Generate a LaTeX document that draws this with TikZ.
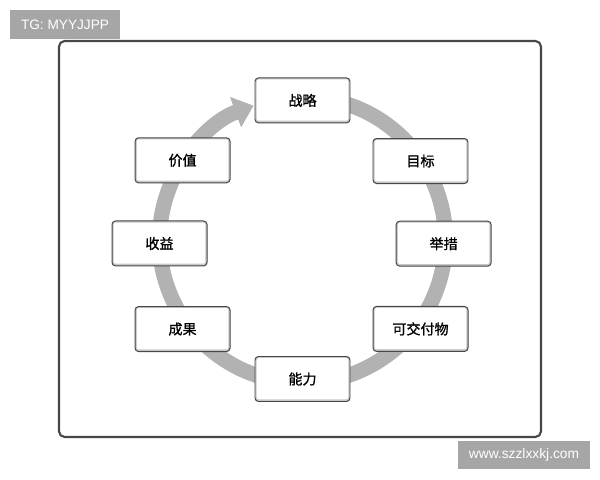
\documentclass[tikz,border=0pt]{standalone}
\usepackage{fontspec}
\setsansfont{Liberation Sans}
\newfontfamily\cjk[FakeBold=1.2]{Noto Sans CJK SC}
\usetikzlibrary{arrows.meta}
\begin{document}
\begin{tikzpicture}[
    stage/.style={draw=black!72, line width=0.7pt, fill=black!22, rounded corners=2.5pt,
      minimum width=2.375cm, minimum height=1.125cm, font=\cjk\fontsize{10}{12}\selectfont,
      path picture={\fill[white, rounded corners=1.5pt]
        ([shift={(1.2pt,1.6pt)}]path picture bounding box.south west) rectangle
        ([shift={(-1.2pt,-1.1pt)}]path picture bounding box.north east);}},
    tag/.style={fill=black!35, text=white, inner sep=0pt}
  ]
  \useasboundingbox (0,0) rectangle (15,12);
  \node[tag, minimum width=2.75cm, minimum height=0.725cm, font=\sffamily\fontsize{9.7}{11}\selectfont]
    (tg) at (1.625,11.3875) {TG: MYYJJPP};
  \node[tag, minimum width=3.3cm, minimum height=0.7cm, font=\sffamily\fontsize{9.8}{11}\selectfont]
    (web) at (13.1,0.625) {www.szzlxxkj.com};
  \draw[black!72, line width=1.5pt, rounded corners=4pt] (1.475,1.075) rectangle (13.525,10.975);
  \begin{scope}[shift={(7.5625,6.0)}]
    \draw[black!30, line width=0.38cm, -{Triangle[width=0.78cm,length=0.48cm]}]
      (75:3.575) arc[start angle=75, end angle=-250, radius=3.575];
    \draw
      (90:3.49) node[stage] (zhanlue){战略}
      (33.8:3.55) node[stage] (mubiao){目标}
      (-1.5:3.53) node[stage] (jucuo){举措}
      (-37:3.695) node[stage] (jiaofu){可交付物}
      (-90:3.475) node[stage] (nengli){能力}
      (-143.4:3.735) node[stage] (chengguo){成果}
      (181.4:3.576) node[stage] (shouyi){收益}
      (146.4:3.6) node[stage] (jiazhi){价值};
  \end{scope}
\end{tikzpicture}
\end{document}
